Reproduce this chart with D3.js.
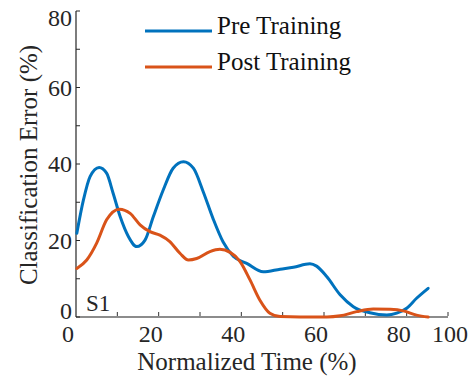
<!DOCTYPE html>
<html>
<head>
<meta charset="utf-8">
<script src="https://cdn.jsdelivr.net/npm/d3@7"></script>
<style>
  html, body { margin: 0; padding: 0; background: #fff; }
  svg { display: block; font-family: "Liberation Serif", "Times New Roman", serif; }
</style>
</head>
<body>
<div id="chart"></div>
<script>
// Normalized time (%) sample positions and classification error (%) per series
const preTime  = [0.2, 1.8, 3.4, 5.6, 7.4, 9.0, 10.7, 12.7, 14.7, 16.7, 18.7, 21.1, 23.5, 26.0, 28.4, 30.8, 33.2, 35.6, 38.1, 41.3, 45.3, 49.4, 52.6, 56.6, 58.2, 60.7, 63.9, 67.1, 71.1, 75.2, 77.6, 80.0, 82.4, 85.2];
const preError = [21.9, 30.6, 36.7, 39.1, 37.6, 32.3, 26.2, 21.0, 18.4, 20.1, 26.2, 33.2, 38.9, 40.6, 38.9, 32.7, 25.6, 19.6, 15.8, 14.0, 11.8, 12.5, 13.0, 13.9, 13.3, 10.5, 5.8, 2.7, 1.1, 0.5, 1.0, 2.3, 4.9, 7.5];

const postTime  = [0.2, 2.6, 5.0, 7.4, 10.5, 13.1, 15.5, 17.9, 20.3, 22.7, 25.2, 27.2, 29.2, 32.4, 34.8, 37.3, 39.7, 42.1, 44.5, 46.9, 49.4, 54.2, 60.7, 63.9, 67.9, 71.9, 76.0, 79.2, 82.4, 85.2];
const postError = [12.7, 14.9, 19.3, 25.4, 28.2, 27.1, 24.1, 22.3, 21.4, 19.7, 16.6, 14.9, 15.3, 17.1, 17.7, 16.9, 14.5, 9.7, 4.4, 1.0, 0.1, 0.0, 0.0, 0.3, 1.4, 2.1, 2.0, 1.6, 0.5, 0.0];

const seriesNames = ["Pre Training", "Post Training"];
const seriesColors = ["#0072BD", "#D95319"];

// Axis ticks and their labels
const xTickMarks = [0, 10, 20, 30, 40, 50, 60, 70, 80, 90];
const xLabelValues = [0, 20, 40, 60, 80, 90];
const xLabelTexts = ["0", "20", "40", "60", "80", "100"];
const yTickMarks = [0, 10, 20, 30, 40, 50, 60, 70, 80];
const yLabelValues = [0, 20, 40, 60, 80];

const panelTag = "S1";
const xTitle = "Normalized Time (%)";
const yTitle = "Classification Error (%)";

const W = 474, H = 382;
const svg = d3.select("#chart").append("svg").attr("width", W).attr("height", H);

const x = d3.scaleLinear().domain([0, 90]).range([76, 448]);
const y = d3.scaleLinear().domain([0, 80]).range([317, 11]);

// Axes
const xAxisG = svg.append("g").attr("transform", `translate(0,${y(0)})`);
xAxisG.append("line")
  .attr("x1", x(0)).attr("x2", x(90))
  .attr("stroke", "#8c8c8c").attr("stroke-width", 2);
xAxisG.selectAll("line.tick").data(xTickMarks.slice(1)).join("line")
  .attr("class", "tick")
  .attr("x1", d => x(d)).attr("x2", d => x(d))
  .attr("y1", -1).attr("y2", -5)
  .attr("stroke", "#333").attr("stroke-width", 1);
xAxisG.selectAll("text").data(xLabelValues).join("text")
  .attr("x", (d, i) => x(d) + (i === xLabelValues.length - 1 ? 2 : -8))
  .attr("y", 25)
  .attr("text-anchor", "middle")
  .attr("font-size", 24)
  .attr("fill", "#262626")
  .text((d, i) => xLabelTexts[i]);

const yAxisG = svg.append("g").attr("transform", `translate(${x(0)},0)`);
yAxisG.append("line")
  .attr("y1", y(0)).attr("y2", y(80))
  .attr("stroke", "#262626").attr("stroke-width", 1.2);
yAxisG.selectAll("line.tick").data(yTickMarks).join("line")
  .attr("class", "tick")
  .attr("y1", d => y(d)).attr("y2", d => y(d))
  .attr("x1", 0).attr("x2", 4)
  .attr("stroke", "#262626").attr("stroke-width", 1);
yAxisG.selectAll("text").data(yLabelValues).join("text")
  .attr("x", -4)
  .attr("y", d => Math.min(Math.max(y(d), 18) + 8, 319))
  .attr("text-anchor", "end")
  .attr("font-size", 24)
  .attr("fill", "#262626")
  .text(d => d);

// Titles
svg.append("text")
  .attr("x", 247).attr("y", 370)
  .attr("text-anchor", "middle")
  .attr("font-size", 25)
  .attr("fill", "#262626")
  .text(xTitle);
svg.append("text")
  .attr("transform", "translate(37,165) rotate(-90)")
  .attr("text-anchor", "middle")
  .attr("font-size", 25)
  .attr("fill", "#262626")
  .text(yTitle);

// Curves
const line = d3.line()
  .x(d => x(d[0]))
  .y(d => y(d[1]))
  .curve(d3.curveMonotoneX);

const series = [
  d3.zip(preTime, preError),
  d3.zip(postTime, postError)
];

svg.append("g").selectAll("path").data(series).join("path")
  .attr("d", line)
  .attr("fill", "none")
  .attr("stroke", (d, i) => seriesColors[i])
  .attr("stroke-width", 3)
  .attr("stroke-linejoin", "round")
  .attr("stroke-linecap", "round");

// Panel tag
svg.append("text")
  .attr("x", 86).attr("y", 311)
  .attr("font-size", 23)
  .attr("fill", "#262626")
  .text(panelTag);

// Legend
const legend = svg.append("g");
const legendRows = seriesNames.map((name, i) => ({ name, color: seriesColors[i], i }));
const lg = legend.selectAll("g").data(legendRows).join("g")
  .attr("transform", d => `translate(145,${31 + d.i * 36})`);
lg.append("line")
  .attr("x1", 0).attr("x2", 67)
  .attr("stroke", d => d.color).attr("stroke-width", 3);
lg.append("text")
  .attr("x", 72).attr("y", 3)
  .attr("font-size", 25)
  .attr("fill", "#111")
  .text(d => d.name);
</script>
</body>
</html>
